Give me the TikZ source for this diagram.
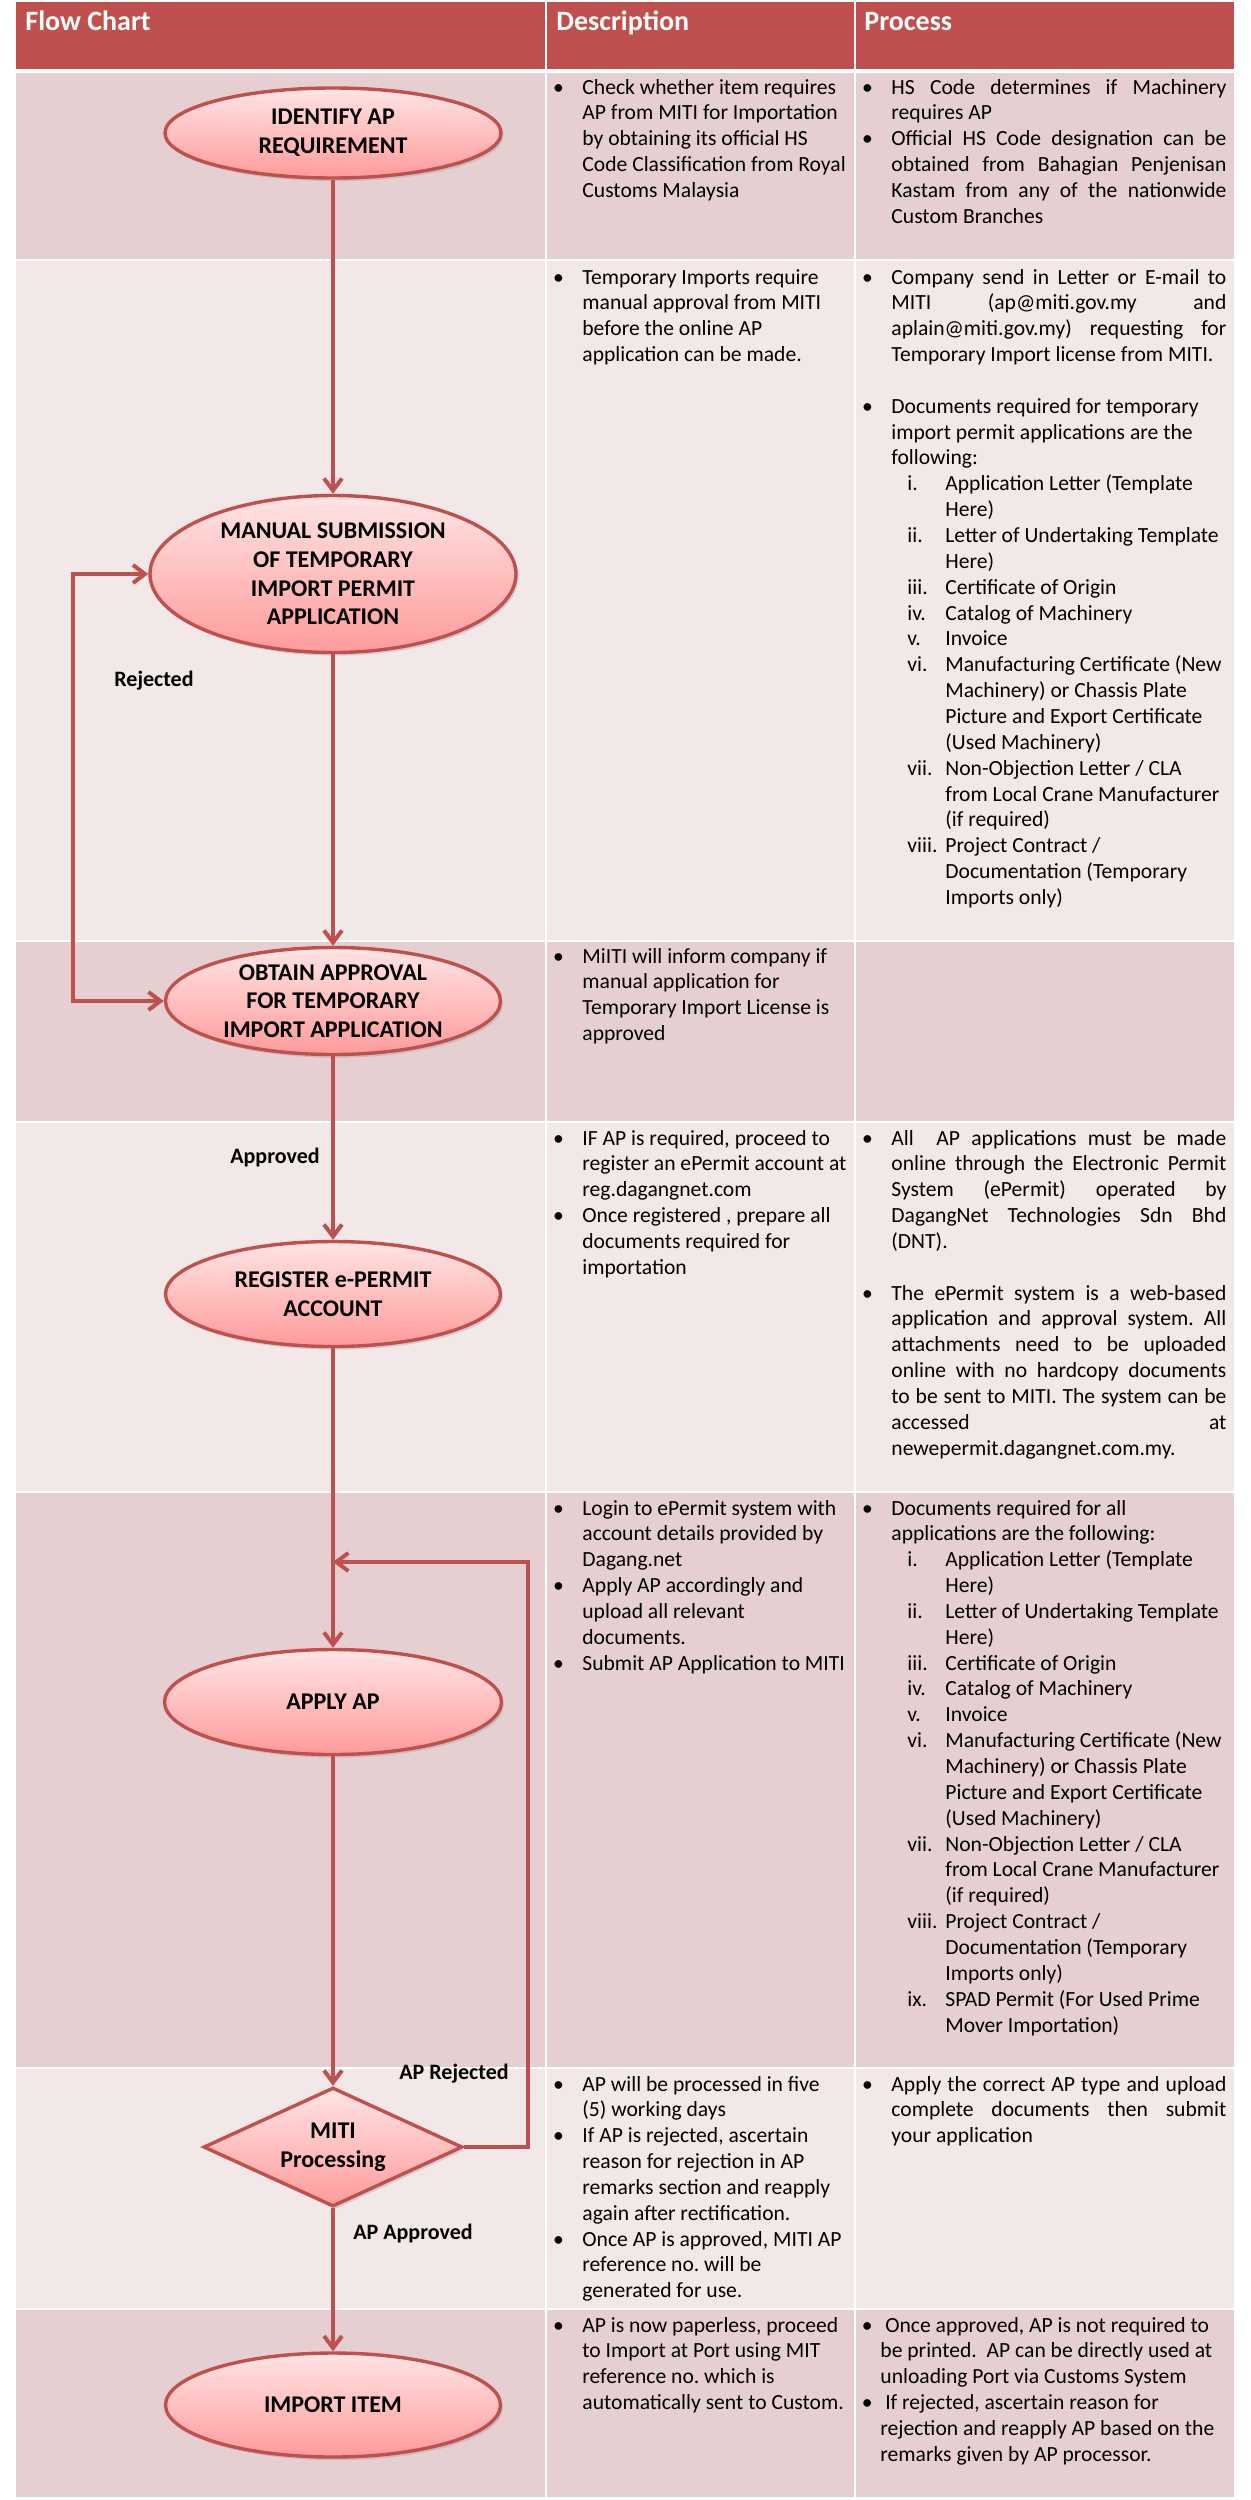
\documentclass[tikz,border=0pt]{standalone}
\usepackage{fontspec}
\setmainfont{Carlito}
\usetikzlibrary{shapes.geometric,arrows.meta,shadows}
\definecolor{hdr}{RGB}{192,80,77}
\definecolor{rowdark}{RGB}{230,207,208}
\definecolor{rowlight}{RGB}{242,232,232}
\definecolor{pinktop}{RGB}{255,228,228}
\definecolor{pinkbot}{RGB}{255,155,155}
\newcommand{\sk}{\frenchspacing\spaceskip=\fontdimen2\font plus \fontdimen3\font minus \fontdimen4\font\relax\xspaceskip=\spaceskip}
\newcommand{\bul}[1][9.3pt]{\leavevmode\llap{\textbullet\hspace{#1}}}
\newcommand{\jl}[1]{\makebox[167.5pt][s]{\spaceskip=\fontdimen2\font plus 1fil minus \fontdimen4\font\relax\xspaceskip=\spaceskip #1}}
\newcommand{\itm}[2]{\leavevmode\hspace*{8pt}\makebox[19pt][l]{#1}#2}
\newcommand{\cnt}[1]{\leavevmode\hspace*{27pt}#1}
\begin{document}
\begin{tikzpicture}[x=0.5pt,y=-0.5pt,
  >={Straight Barb[length=6pt,width=9pt]},
  proc/.style={ellipse, draw=hdr, line width=1.7pt, top color=pinktop, bottom color=pinkbot,
    inner sep=0pt, align=center, font=\bfseries\fontsize{12}{14.3}\selectfont,
    drop shadow={opacity=0.25,shadow xshift=1.2pt,shadow yshift=-1.6pt}},
  dec/.style={diamond, aspect=2.2, draw=hdr, line width=1.7pt, top color=pinktop, bottom color=pinkbot,
    inner sep=0pt, align=center, font=\bfseries\fontsize{12}{14.5}\selectfont,
    drop shadow={opacity=0.25,shadow xshift=1.2pt,shadow yshift=-1.6pt}},
  arr/.style={draw=hdr, line width=2pt, ->},
  lbl/.style={font=\bfseries\fontsize{11}{13}\selectfont, inner sep=0pt},
  hd/.style={font=\bfseries\fontsize{14}{17}\selectfont, text=white, anchor=base west, inner sep=0pt},
  desc/.style={anchor=base west, inner sep=0pt, text width=150pt, align=left, font=\fontsize{10.8}{12.925}\selectfont},
  prc/.style={anchor=base west, inner sep=0pt, text width=185pt, align=left, font=\fontsize{10.8}{12.925}\selectfont},
]
\useasboundingbox (0,0) rectangle (1250,2500);
\fill[white] (0,0) rectangle (1250,2500);
% table
\fill[hdr] (16,2) rectangle (1234,69);
\fill[rowdark] (16,73) rectangle (1234,259);
\fill[rowlight] (16,261) rectangle (1234,940);
\fill[rowdark] (16,942) rectangle (1234,1121);
\fill[rowlight] (16,1123) rectangle (1234,1491);
\fill[rowdark] (16,1493) rectangle (1234,2067);
\fill[rowlight] (16,2069) rectangle (1234,2308);
\fill[rowdark] (16,2310) rectangle (1234,2497);
\draw[white, line width=0.8pt] (546,2) -- (546,2497) (855,2) -- (855,2497);
% header
\node[hd] (h1) at (25,31) {Flow Chart};
\node[hd] (h2) at (556,31) {Description};
\node[hd] (h3) at (864,31) {Process};
% shapes
\node[proc, minimum width=168pt, minimum height=45pt] (e1) at (333,133) {IDENTIFY AP\\REQUIREMENT};
\node[proc, minimum width=183pt, minimum height=78.5pt] (e2) at (333,574) {MANUAL SUBMISSION\\OF TEMPORARY\\IMPORT PERMIT\\APPLICATION};
\node[proc, minimum width=167.5pt, minimum height=53.5pt] (e3) at (333,1001) {OBTAIN APPROVAL\\FOR TEMPORARY\\IMPORT APPLICATION};
\node[proc, minimum width=167.5pt, minimum height=52.5pt] (e4) at (333,1294) {REGISTER e-PERMIT\\ACCOUNT};
\node[proc, minimum width=168.5pt, minimum height=52.5pt] (e5) at (333,1702) {APPLY AP};
\node[dec, minimum width=129.5pt, minimum height=59.5pt] (d) at (333,2147) {MITI\\Processing};
\node[proc, minimum width=167.5pt, minimum height=52pt] (e6) at (333,2405) {IMPORT ITEM};
% connectors
\draw[arr] (e1.south) -- (e2.north);
\draw[arr] (e2.south) -- (e3.north);
\draw[arr] (e3.south) -- (e4.north);
\draw[arr] (e4.south) -- (e5.north);
\draw[arr] (e5.south) -- (d.north);
\draw[arr] (d.south) -- (e6.north);
\coordinate (lx) at (73,1001);
\draw[arr, <->] (e3.west) -- (lx) |- (e2.west);
\coordinate (rc) at (528,1562);
\coordinate (j) at (333,1562);
\draw[arr] (d.east) -| (rc) -- (j);
% labels
\node[lbl] (l1) at (154,681) {Rejected};
\node[lbl] (l2) at (275,1157) {Approved};
\node[lbl] (l3) at (454,2074) {AP Rejected};
\node[lbl] (l4) at (413,2233) {AP Approved};
% row 1
\node[desc] (d1) at (582,94) {\sk\bul Check whether item requires\\AP from MITI for Importation\\by obtaining its official HS\\Code Classification from Royal\\Customs Malaysia};
\node[prc] (p1) at (891,94) {\sk\bul\jl{HS Code determines if Machinery}\\requires AP\\\bul\jl{Official HS Code designation can be}\\\jl{obtained from Bahagian Penjenisan}\\\jl{Kastam from any of the nationwide}\\Custom Branches};
% row 2
\node[desc] (d2) at (582,284) {\sk\bul Temporary Imports require\\manual approval from MITI\\before the online AP\\application can be made.};
\node[prc] (p2) at (891,284) {\sk\bul\jl{Company send in Letter or E-mail to}\\
\jl{MITI (ap@miti.gov.my and}\\
\jl{aplain@miti.gov.my) requesting for}\\
Temporary Import license from MITI.\\[12.925pt]
\bul Documents required for temporary\\
import permit applications are the\\
following:\\
\itm{i.}{Application Letter (Template}\\
\cnt{Here)}\\
\itm{ii.}{Letter of Undertaking Template}\\
\cnt{Here)}\\
\itm{iii.}{Certificate of Origin}\\
\itm{iv.}{Catalog of Machinery}\\
\itm{v.}{Invoice}\\
\itm{vi.}{Manufacturing Certificate (New}\\
\cnt{Machinery) or Chassis Plate}\\
\cnt{Picture and Export Certificate}\\
\cnt{(Used Machinery)}\\
\itm{vii.}{Non-Objection Letter / CLA}\\
\cnt{from Local Crane Manufacturer}\\
\cnt{(if required)}\\
\itm{viii.}{Project Contract /}\\
\cnt{Documentation (Temporary}\\
\cnt{Imports only)}};
% row 3
\node[desc] (d3) at (582,963) {\sk\bul MiITI will inform company if\\manual application for\\Temporary Import License is\\approved};
% row 4
\node[desc] (d4) at (582,1145) {\sk\bul IF AP is required, proceed to\\register an ePermit account at\\reg.dagangnet.com\\\bul Once registered , prepare all\\documents required for\\importation};
\node[prc] (p4) at (891,1145) {\sk\bul\jl{All\ \ AP applications must be made}\\
\jl{online through the Electronic Permit}\\
\jl{System (ePermit) operated by}\\
\jl{DagangNet Technologies Sdn Bhd}\\
(DNT).\\[12.925pt]
\bul\jl{The ePermit system is a web-based}\\
\jl{application and approval system. All}\\
\jl{attachments need to be uploaded}\\
\jl{online with no hardcopy documents}\\
\jl{to be sent to MITI. The system can be}\\
\jl{accessed at}\\
newepermit.dagangnet.com.my.};
% row 5
\node[desc] (d5) at (582,1515) {\sk\bul Login to ePermit system with\\account details provided by\\Dagang.net\\\bul Apply AP accordingly and\\upload all relevant\\documents.\\\bul Submit AP Application to MITI};
\node[prc] (p5) at (891,1515) {\sk\bul Documents required for all\\
applications are the following:\\
\itm{i.}{Application Letter (Template}\\
\cnt{Here)}\\
\itm{ii.}{Letter of Undertaking Template}\\
\cnt{Here)}\\
\itm{iii.}{Certificate of Origin}\\
\itm{iv.}{Catalog of Machinery}\\
\itm{v.}{Invoice}\\
\itm{vi.}{Manufacturing Certificate (New}\\
\cnt{Machinery) or Chassis Plate}\\
\cnt{Picture and Export Certificate}\\
\cnt{(Used Machinery)}\\
\itm{vii.}{Non-Objection Letter / CLA}\\
\cnt{from Local Crane Manufacturer}\\
\cnt{(if required)}\\
\itm{viii.}{Project Contract /}\\
\cnt{Documentation (Temporary}\\
\cnt{Imports only)}\\
\itm{ix.}{SPAD Permit (For Used Prime}\\
\cnt{Mover Importation)}};
% row 6
\node[desc] (d6) at (582,2091) {\sk\bul AP will be processed in five\\(5) working days\\\bul If AP is rejected, ascertain\\reason for rejection in AP\\remarks section and reapply\\again after rectification.\\\bul Once AP is approved, MITI AP\\reference no. will be\\generated for use.};
\node[prc] (p6) at (891,2091) {\sk\bul\jl{Apply the correct AP type and upload}\\\jl{complete documents then submit}\\your application};
% row 7
\node[desc] (d7) at (582,2332) {\sk\bul AP is now paperless, proceed\\to Import at Port using MIT\\reference no. which is\\automatically sent to Custom.};
\node[prc] (p7) at (880,2332) {\sk\bul[3.85pt] Once approved, AP is not required to\\be printed.\ \ AP can be directly used at\\unloading Port via Customs System\\\bul[3.85pt] If rejected, ascertain reason for\\rejection and reapply AP based on the\\remarks given by AP processor.};
\end{tikzpicture}
\end{document}
